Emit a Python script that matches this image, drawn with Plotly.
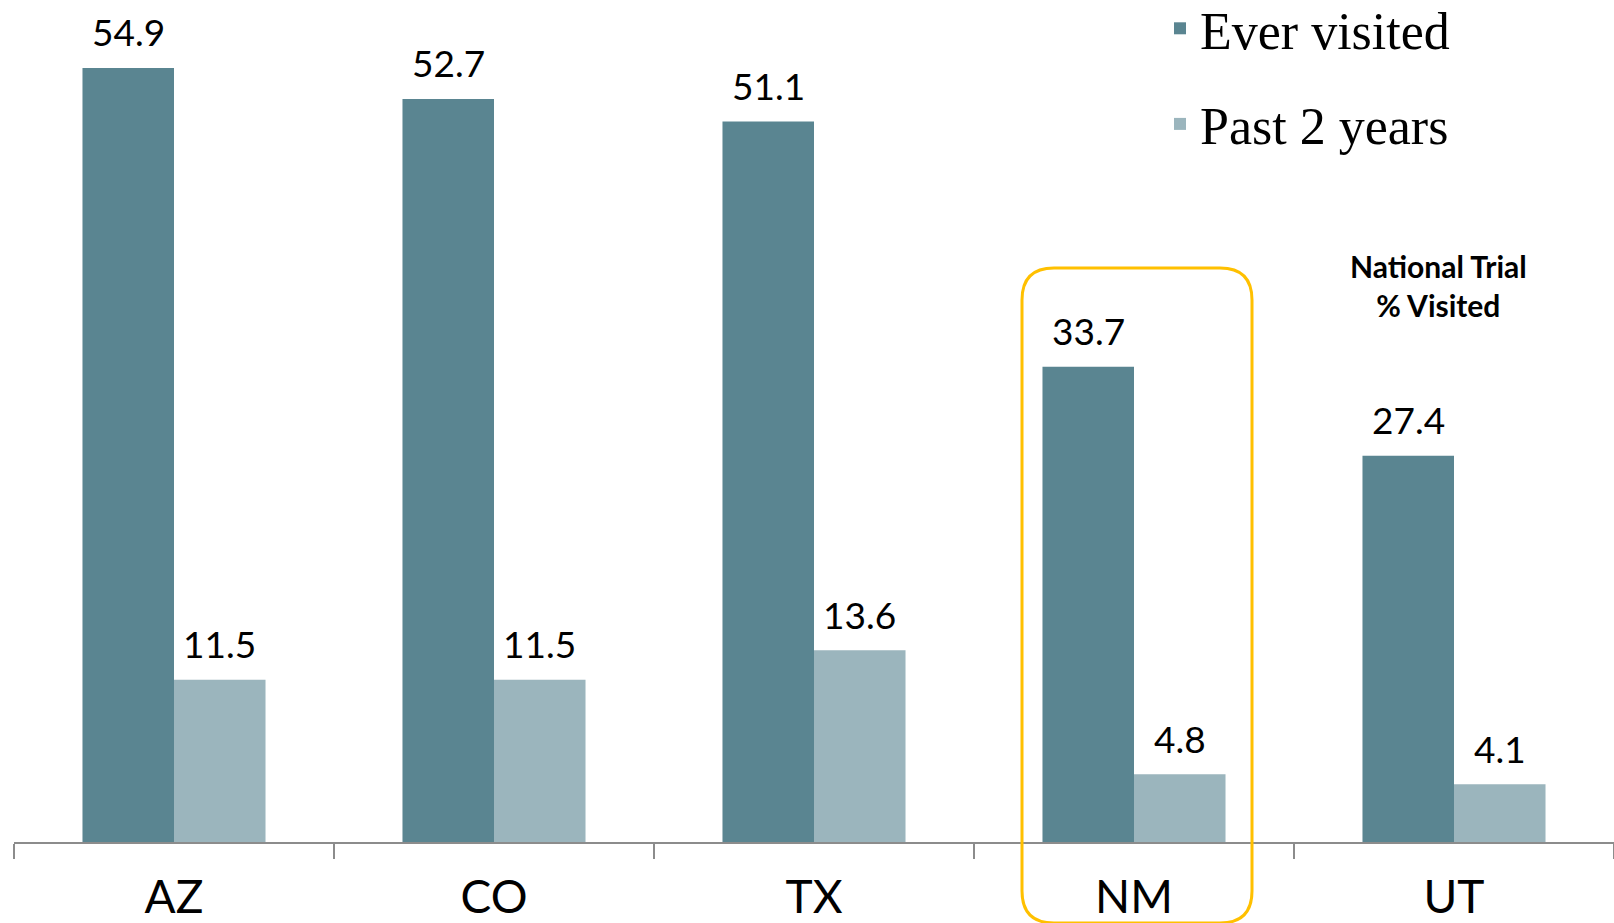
import plotly.graph_objects as go

states = ["AZ", "CO", "TX", "NM", "UT"]
ever_visited = [54.9, 52.7, 51.1, 33.7, 27.4]
past_2_years = [11.5, 11.5, 13.6, 4.8, 4.1]
ever_labels = ["54.9", "52.7", "51.1", "33.7", "27.4"]
past_labels = ["11.5", "11.5", "13.6", "4.8", "4.1"]

W, H = 1614, 923
ML, MR, MT, MB = 14, 0, 0, 81
PW, PH = W - ML - MR, H - MT - MB
YMAX = 59.72

DARK = "#5a8591"
LIGHT = "#9bb5bd"
LABEL_FONT = "Lato"

fig = go.Figure()
fig.add_trace(go.Bar(x=states, y=ever_visited, name="Ever visited", marker_color=DARK,
                     marker_line_width=0, legendgroup="a"))
fig.add_trace(go.Bar(x=states, y=past_2_years, name="Past 2 years", marker_color=LIGHT,
                     marker_line_width=0, legendgroup="b"))

bar_px = PW / len(states) * (1 - 0.428) / 2
annotations = []
for s, v, t in zip(states, ever_visited, ever_labels):
    annotations.append(dict(x=s, y=v, text=t, showarrow=False, xshift=-bar_px / 2, yshift=36,
                            yanchor="middle", font=dict(family=LABEL_FONT, size=37, color="black")))
for s, v, t in zip(states, past_2_years, past_labels):
    annotations.append(dict(x=s, y=v, text=t, showarrow=False, xshift=bar_px / 2, yshift=36,
                            yanchor="middle", font=dict(family=LABEL_FONT, size=37, color="black")))

def px2x(p):
    return (p - ML) / PW

def px2y(p):
    return (MT + PH - p) / PH

annotations.append(dict(x=px2x(1438), y=px2y(285), xref="paper", yref="paper",
                        text="<b>National Trial</b><br><b>% Visited</b>", showarrow=False,
                        xanchor="center", yanchor="middle", align="center",
                        font=dict(family=LABEL_FONT, size=30, color="black")))

# rounded highlight box around NM
x0, x1, y0, y1, r = 1022, 1252, 268, 923, 32
pts = [
    ("M", [(x0 + r, y0)]),
    ("L", [(x1 - r, y0)]),
    ("Q", [(x1, y0), (x1, y0 + r)]),
    ("L", [(x1, y1 - r)]),
    ("Q", [(x1, y1), (x1 - r, y1)]),
    ("L", [(x0 + r, y1)]),
    ("Q", [(x0, y1), (x0, y1 - r)]),
    ("L", [(x0, y0 + r)]),
    ("Q", [(x0, y0), (x0 + r, y0)]),
]
path = " ".join(cmd + " " + " ".join(f"{px2x(a):.5f},{px2y(b):.5f}" for a, b in coords)
                for cmd, coords in pts) + " Z"

fig.update_layout(
    width=W, height=H,
    margin=dict(l=ML, r=MR, t=MT, b=MB, autoexpand=False),
    paper_bgcolor="white", plot_bgcolor="white",
    barmode="group", bargap=0.428, bargroupgap=0,
    showlegend=True,
    legend=dict(x=px2x(1160), y=px2y(-12), xanchor="left", yanchor="top",
                font=dict(family="Liberation Serif", size=52, color="black"),
                traceorder="grouped", tracegroupgap=25, bgcolor="rgba(0,0,0,0)"),
    xaxis=dict(showline=True, linecolor="#8c8c8c", linewidth=2,
               ticks="outside", tickson="boundaries", ticklen=15, tickwidth=2, tickcolor="#8c8c8c",
               tickfont=dict(family=LABEL_FONT, size=46, color="black"),
               ticklabelstandoff=14, showgrid=False, zeroline=False, automargin=False),
    yaxis=dict(range=[0, YMAX], visible=False, showgrid=False, zeroline=False),
    annotations=annotations,
    shapes=[dict(type="path", xref="paper", yref="paper", path=path,
                 line=dict(color="#FFC000", width=3), fillcolor="rgba(0,0,0,0)")],
)

fig.write_html("out.html")
